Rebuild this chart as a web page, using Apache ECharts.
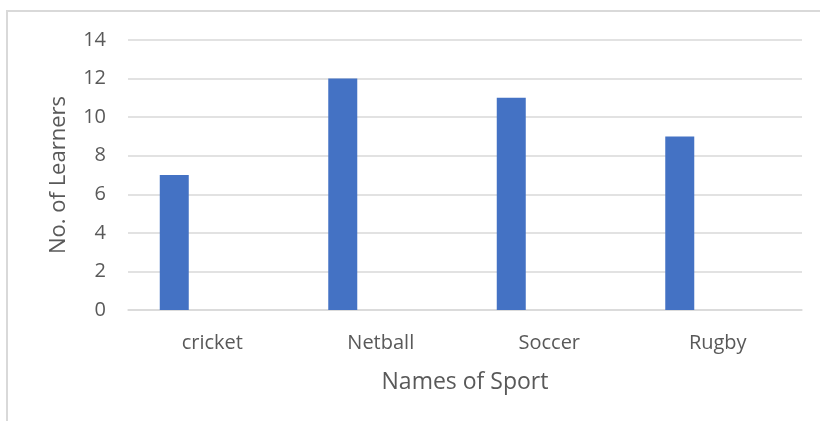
<!DOCTYPE html>
<html>
<head>
<meta charset="utf-8">
<script src="https://cdn.jsdelivr.net/npm/echarts@6/dist/echarts.min.js"></script>
<style>
  html, body { margin: 0; padding: 0; background: #fff; }
  #chart { width: 820px; height: 421px; }
</style>
</head>
<body>
<div id="chart"></div>
<script>
const sports = ['cricket', 'Netball', 'Soccer', 'Rugby'];
const learners = [7, 12, 11, 9];
const emptySeries = [null, null, null, null];

const textColor = '#595959';
const lineColor = '#d9d9d9';

const chart = echarts.init(document.getElementById('chart'));

const option = {
  animation: false,
  backgroundColor: '#fff',
  grid: { left: 128, right: 18, top: 40, bottom: 111 },
  graphic: [
    // chart frame (top and left edges)
    { type: 'line', shape: { x1: 6, y1: 11, x2: 820, y2: 11 }, style: { stroke: lineColor, lineWidth: 2 } },
    { type: 'line', shape: { x1: 7, y1: 10, x2: 7, y2: 421 }, style: { stroke: lineColor, lineWidth: 2 } }
  ],
  xAxis: {
    type: 'category',
    data: sports,
    name: 'Names of Sport',
    nameLocation: 'middle',
    nameGap: 61,
    nameTextStyle: { color: textColor, fontSize: 23, fontFamily: 'Open Sans' },
    axisLine: { show: true, lineStyle: { color: lineColor, width: 1.5 } },
    axisTick: { show: false },
    axisLabel: { color: textColor, fontSize: 20, fontFamily: 'Open Sans', margin: 23 }
  },
  yAxis: {
    type: 'value',
    min: 0,
    max: 14,
    interval: 2,
    name: 'No. of Learners',
    nameLocation: 'middle',
    nameGap: 58,
    nameTextStyle: { color: textColor, fontSize: 22, fontFamily: 'Open Sans' },
    axisLine: { show: false },
    axisTick: { show: false },
    axisLabel: { color: textColor, fontSize: 20, fontFamily: 'Open Sans', margin: 22 },
    splitLine: { lineStyle: { color: lineColor, width: 1.5 } }
  },
  series: [
    {
      name: 'Learners',
      type: 'bar',
      data: learners,
      barWidth: 29,
      barGap: '162%',
      itemStyle: { color: '#4472c4' }
    },
    {
      name: 'Empty',
      type: 'bar',
      data: emptySeries,
      barWidth: 29,
      itemStyle: { color: '#ed7d31' }
    }
  ]
};

chart.setOption(option);
</script>
</body>
</html>
